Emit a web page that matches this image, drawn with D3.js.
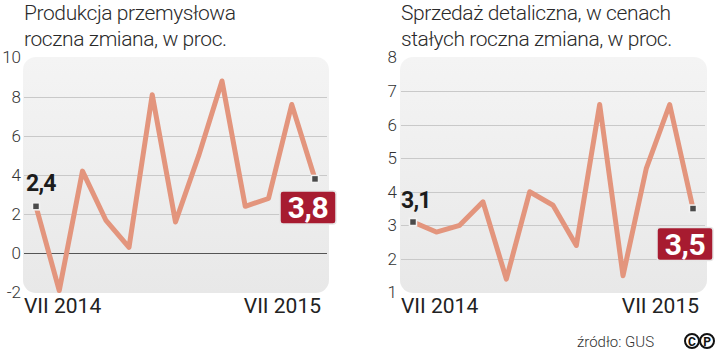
<!DOCTYPE html>
<html>
<head>
<meta charset="utf-8">
<script src="https://cdn.jsdelivr.net/npm/d3@7/dist/d3.min.js"></script>
<style>
  body { margin: 0; background: #fff; }
  svg { display: block; font-family: Roboto, "Open Sans", sans-serif; }
</style>
</head>
<body>
<svg id="chart" width="721" height="352"></svg>
<script>
// data
const months = ['VII 2014', 'VIII 2014', 'IX 2014', 'X 2014', 'XI 2014', 'XII 2014',
  'I 2015', 'II 2015', 'III 2015', 'IV 2015', 'V 2015', 'VI 2015', 'VII 2015'];
const production = [2.4, -1.9, 4.2, 1.7, 0.3, 8.1, 1.6, 5.0, 8.8, 2.4, 2.8, 7.6, 3.8];
const retail = [3.1, 2.8, 3.0, 3.7, 1.4, 4.0, 3.6, 2.4, 6.6, 1.5, 4.7, 6.6, 3.5];
const productionTicks = [-2, 0, 2, 4, 6, 8, 10];
const retailTicks = [1, 2, 3, 4, 5, 6, 7, 8];
const productionTitle = ['Produkcja przemysłowa', 'roczna zmiana, w proc.'];
const retailTitle = ['Sprzedaż detaliczna, w cenach', 'stałych roczna zmiana, w proc.'];

const svg = d3.select('#chart');

const defs = svg.append('defs');
const grad = defs.append('linearGradient')
  .attr('id', 'panelGrad')
  .attr('x1', 0).attr('y1', 0).attr('x2', 0).attr('y2', 1);
grad.append('stop').attr('offset', '0%').attr('stop-color', '#f4f4f4');
grad.append('stop').attr('offset', '100%').attr('stop-color', '#e8e8e8');

function drawPanel(opts) {
  const { values, ticks, title, px0, px1, xs0, xs1, yDomain, tickX, zeroLine,
          firstLabel, lastBox } = opts;
  const top = 57, bottom = 293;
  const g = svg.append('g');

  const x = d3.scalePoint().domain(months).range([xs0, xs1]);
  const y = d3.scaleLinear().domain(yDomain).range([bottom - 0.5, top + 0.5]);

  // title
  g.append('text')
    .attr('x', px0 + 1)
    .attr('y', 20)
    .style('font-size', '21px')
    .style('font-weight', 300)
    .style('fill', '#2a2a2a')
    .style('letter-spacing', '-0.4px')
    .selectAll('tspan')
    .data(title)
    .enter().append('tspan')
    .attr('x', px0 + 1)
    .attr('dy', (d, i) => i === 0 ? 0 : 26)
    .text(d => d);

  // background panel
  g.append('rect')
    .attr('x', px0)
    .attr('y', top)
    .attr('width', px1 - px0)
    .attr('height', bottom - top)
    .attr('rx', 13)
    .style('fill', 'url(#panelGrad)');

  // grid lines
  g.append('g')
    .selectAll('line')
    .data(ticks.slice(1, -1))
    .enter().append('line')
    .attr('x1', px0 + 1)
    .attr('x2', px1 - 2)
    .attr('y1', d => Math.round(y(d)) + 0.5)
    .attr('y2', d => Math.round(y(d)) + 0.5)
    .style('stroke', d => (zeroLine && d === 0) ? '#555' : '#c9c9c9')
    .style('stroke-width', 1);

  // y tick labels
  g.append('g')
    .selectAll('text')
    .data(ticks)
    .enter().append('text')
    .attr('x', tickX)
    .attr('y', d => y(d))
    .attr('dy', '0.35em')
    .attr('text-anchor', 'end')
    .style('font-size', '17px')
    .style('font-weight', 300)
    .style('fill', '#333')
    .text(d => d);

  // x labels
  g.append('text')
    .attr('x', xs0 - 12)
    .attr('y', 313)
    .style('font-size', '21px')
    .style('fill', '#222')
    .text(months[0]);
  g.append('text')
    .attr('x', xs1 + 6)
    .attr('y', 313)
    .attr('text-anchor', 'end')
    .style('font-size', '21px')
    .style('fill', '#222')
    .text(months[months.length - 1]);

  // line
  const line = d3.line()
    .x((d, i) => x(months[i]))
    .y(d => y(d));
  g.append('path')
    .datum(values)
    .attr('d', line)
    .style('fill', 'none')
    .style('stroke', '#e3957d')
    .style('stroke-width', 5)
    .style('stroke-linejoin', 'round');

  // end markers
  const ends = [0, values.length - 1];
  g.append('g')
    .selectAll('rect')
    .data(ends)
    .enter().append('rect')
    .attr('x', i => x(months[i]) - 3.5)
    .attr('y', i => y(values[i]) - 3.5)
    .attr('width', 7)
    .attr('height', 7)
    .style('fill', '#4a4a4a')
    .style('stroke', '#f2f2f2')
    .style('stroke-width', 1.5);

  // first value label
  const fmt = v => d3.format('.1f')(v).replace('.', ',');
  g.append('text')
    .attr('x', x(months[0]) + firstLabel.dx)
    .attr('y', y(values[0]) + firstLabel.dy)
    .style('font-size', '23px')
    .style('font-weight', 700)
    .style('fill', '#1c1c1c')
    .style('letter-spacing', '-0.8px')
    .text(fmt(values[0]));

  // last value box
  const last = values.length - 1;
  const bx = x(months[last]) + lastBox.dx;
  const by = y(values[last]) + lastBox.dy;
  g.append('rect')
    .attr('x', bx)
    .attr('y', by)
    .attr('width', 56)
    .attr('height', 33)
    .attr('rx', 3)
    .style('fill', '#a71b30')
    .style('stroke', '#e6e6e6')
    .style('stroke-width', 1.5);
  g.append('text')
    .attr('x', bx + 28)
    .attr('y', by + 27)
    .attr('text-anchor', 'middle')
    .style('font-size', '30px')
    .style('font-weight', 700)
    .style('fill', '#fff')
    .style('letter-spacing', '-0.5px')
    .text(fmt(values[last]));
}

drawPanel({
  values: production, ticks: productionTicks, title: productionTitle,
  px0: 23, px1: 329, xs0: 36, xs1: 315, yDomain: [-2, 10], tickX: 21,
  zeroLine: true,
  firstLabel: { dx: -10, dy: -15 },
  lastBox: { dx: -35, dy: 12 }
});

drawPanel({
  values: retail, ticks: retailTicks, title: retailTitle,
  px0: 400, px1: 707, xs0: 413, xs1: 693, yDomain: [1, 8], tickX: 397,
  zeroLine: false,
  firstLabel: { dx: -12, dy: -14 },
  lastBox: { dx: -36, dy: 19 }
});

// source + cc icon
svg.append('text')
  .attr('x', 577)
  .attr('y', 347)
  .style('font-size', '15px')
  .style('font-weight', 300)
  .style('fill', '#333')
  .text('źródło: GUS');

const cc = svg.append('g').attr('transform', 'translate(684,333)');
['C', 'P'].forEach((ch, i) => {
  cc.append('circle')
    .attr('cx', 8 + i * 15)
    .attr('cy', 8)
    .attr('r', 7)
    .style('fill', 'none')
    .style('stroke', '#111')
    .style('stroke-width', 2);
  cc.append('text')
    .attr('x', 8 + i * 15)
    .attr('y', 12.5)
    .attr('text-anchor', 'middle')
    .style('font-size', '12px')
    .style('font-weight', 700)
    .style('fill', '#111')
    .text(ch);
});
</script>
</body>
</html>
